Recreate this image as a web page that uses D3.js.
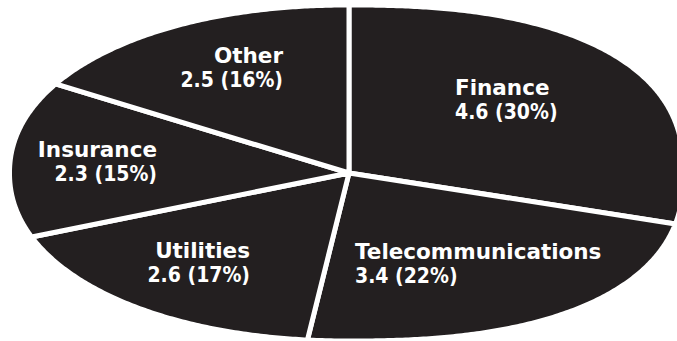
<!DOCTYPE html>
<html>
<head>
<meta charset="utf-8">
<script src="https://cdn.jsdelivr.net/npm/d3@7"></script>
<style>
  html, body { margin: 0; padding: 0; background: #ffffff; }
  svg { display: block; }
  .name { font-family: 'DejaVu Sans', sans-serif; font-weight: bold; font-size: 21.5px; }
  .value { font-family: 'DejaVu Sans Condensed', 'DejaVu Sans', sans-serif; font-stretch: condensed; font-weight: bold; font-size: 21px; }
</style>
</head>
<body>
<svg id="chart" width="677" height="341"></svg>
<script>
// Sector shares, in billions
const categories = ["Finance", "Telecommunications", "Utilities", "Insurance", "Other"];
const values = [4.6, 3.4, 2.6, 2.3, 2.5];

// Label placement relative to the pie hub (first-line baseline)
const labelDx = [106, 6, -99, -192, -66];
const labelDy = [-78, 86, 84.5, -16.5, -110.5];
const labelAnchor = ["start", "start", "end", "end", "end"];

const W = 677, H = 341;
const hub = { x: 349, y: 173 };
const dirA = 335, dirB = 165.5;       // squash of the pie
const rim = { aLeft: 337, nLeft: 2.1, aRight: 332, nRight: 2.4, b: 165.5 };
const gap = 5;                          // white separator width
const fill = "#231f20";

const svg = d3.select("#chart");

const total = d3.sum(values);
const pct = d3.format(".0%");
const num = d3.format(".1f");

const pie = d3.pie().sort(null).startAngle(0).endAngle(2 * Math.PI);
const arcs = pie(values);

// point on the rounded-oval outline along the squashed direction of angle t
function rimPoint(t) {
  const dx = Math.sin(t) * dirA, dy = -Math.cos(t) * dirB;
  const right = dx >= 0;
  const a = (right ? rim.aRight : rim.aLeft) + gap / 2;
  const n = right ? rim.nRight : rim.nLeft;
  const b = rim.b + gap / 2;
  const s = Math.pow(Math.abs(dx / a), n) + Math.pow(Math.abs(dy / b), n);
  const k = Math.pow(s, -1 / n);
  return [hub.x + k * dx, hub.y + k * dy];
}

const line = d3.line();

function slicePath(d) {
  const steps = Math.max(8, Math.ceil((d.endAngle - d.startAngle) / (Math.PI / 360)));
  const pts = [[hub.x, hub.y]];
  const ang = d3.scaleLinear().domain([0, steps]).range([d.startAngle, d.endAngle]);
  for (let i = 0; i <= steps; i++) pts.push(rimPoint(ang(i)));
  return line(pts) + "Z";
}

svg.append("g")
  .selectAll("path")
  .data(arcs)
  .join("path")
  .attr("d", slicePath)
  .attr("fill", fill)
  .attr("stroke", "#ffffff")
  .attr("stroke-width", gap)
  .attr("stroke-linejoin", "round");

const labels = svg.append("g")
  .attr("fill", "#ffffff")
  .selectAll("text")
  .data(arcs)
  .join("text")
  .attr("text-anchor", (d, i) => labelAnchor[i])
  .attr("transform", (d, i) => `translate(${hub.x + labelDx[i]},${hub.y + labelDy[i]})`);

labels.append("tspan")
  .attr("class", "name")
  .attr("x", 0)
  .attr("y", 0)
  .text((d, i) => categories[i]);

labels.append("tspan")
  .attr("class", "value")
  .attr("x", 0)
  .attr("y", 24)
  .text(d => `${num(d.value)} (${pct(d.value / total)})`);
</script>
</body>
</html>
